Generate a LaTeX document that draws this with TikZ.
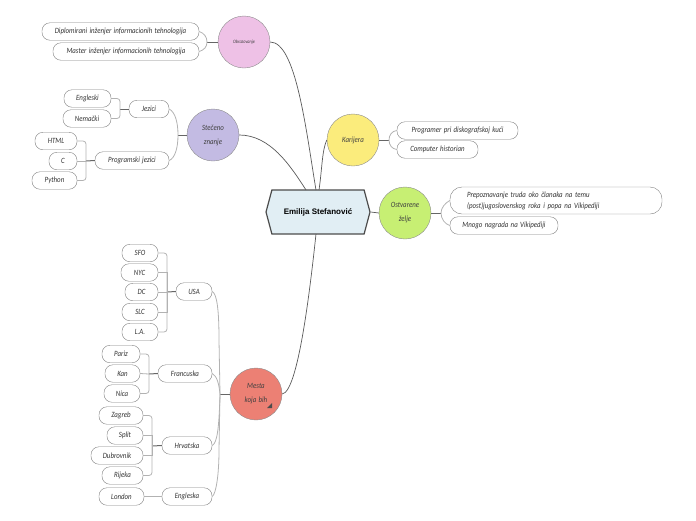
\documentclass[tikz,border=0pt]{standalone}
\usepackage{fontspec}
\setmainfont{Carlito}[FakeStretch=0.86,WordSpace=1.5]
\newfontfamily\titlefont{Liberation Sans}
\usetikzlibrary{shapes.symbols}
\definecolor{hexblue}{HTML}{E1EEF4}
\definecolor{pinkish}{HTML}{EEC1E6}
\definecolor{violetish}{HTML}{C3BBE3}
\definecolor{yellowish}{HTML}{FBEC7C}
\definecolor{greenish}{HTML}{C7EF73}
\definecolor{redish}{HTML}{EC8074}
\tikzset{
  topic/.style={draw=black!45,circle,inner sep=0pt,minimum size=52pt,align=center,font=\itshape\fontsize{8}{14}\selectfont,text=black!75},
  leaf/.style={draw=black!50,fill=white,rounded corners=8pt,inner sep=0pt,minimum height=17.5pt,align=left,font=\itshape\fontsize{8}{11}\selectfont,text=black!80},
  limb/.style={draw=black!65,line width=0.7pt},
  stub/.style={draw=black!60,line width=1pt},
  twig/.style={draw=black!30,line width=0.8pt},
  bracket/.style={twig,rounded corners=3pt},
}
\begin{document}
\begin{tikzpicture}[x=1pt,y=-1pt]
\useasboundingbox (0,0) rectangle (696,520);

\node[shape=signal,signal to=west and east,signal pointer angle=150,draw=black!70,line width=1.2pt,fill=hexblue,minimum width=104pt,minimum height=44pt,inner sep=0pt,font=\titlefont\bfseries\fontsize{8}{10}\selectfont](root) at (318, 212) {Emilija Stefanović};

\node[topic,fill=pinkish,font=\itshape\fontsize{5}{6}\selectfont](obrazovanje) at (244, 42) {Obrazovanje};
\node[topic,fill=violetish](znanje) at (213, 135) {Stečeno\\znanje};
\node[topic,fill=yellowish](karijera) at (353, 140) {Karijera};
\node[topic,fill=greenish](zelje) at (405, 213) {Ostvarene\\želje};
\node[topic,fill=redish](mesta) at (256, 394) {Mesta\\koja bih};
\fill[black!70] (272,403) -- (272,408) -- (267,408) -- cycle;

\node[leaf,minimum width=157pt](diplomirani) at (120.5, 31.5) {Diplomirani inženjer informacionih tehnologija};
\node[leaf,minimum width=146pt](master) at (126, 51.5) {Master inženjer informacionih tehnologija};

\node[leaf,minimum width=40pt](jezici) at (149, 109) {Jezici};
\node[leaf,minimum width=47pt](engleski) at (87.5, 98.5) {Engleski};
\node[leaf,minimum width=48pt](nemacki) at (87, 118.5) {Nemački};
\node[leaf,minimum width=74pt](programski) at (132, 160.5) {Programski jezici};
\node[leaf,minimum width=42pt](html) at (56, 141) {HTML};
\node[leaf,minimum width=28pt](c) at (63, 161) {C};
\node[leaf,minimum width=45pt](python) at (54.5, 180.5) {Python};

\node[leaf,minimum width=121pt](programer) at (457.5, 130.5) {Programer pri diskografskoj kući};
\node[leaf,minimum width=81pt](computer) at (437.5, 149.5) {Computer historian};
\node[leaf,minimum width=212pt,minimum height=27pt,rounded corners=12pt,text width=178pt](truda) at (556, 200.5) {Prepoznavanje truda oko članaka na temu\\(post)jugoslovenskog roka i popa na Vikipediji};
\node[leaf,minimum width=108pt](nagrada) at (504, 225.5) {Mnogo nagrada na Vikipediji};

\node[leaf,minimum width=36pt](usa) at (194, 291.5) {USA};
\node[leaf,minimum width=36pt](sfo) at (140, 253) {SFO};
\node[leaf,minimum width=37pt](nyc) at (139.5, 272.5) {NYC};
\node[leaf,minimum width=33pt](dc) at (141.5, 292) {DC};
\node[leaf,minimum width=36pt](slc) at (140, 312) {SLC};
\node[leaf,minimum width=36pt](la) at (140, 332) {L.A.};

\node[leaf,minimum width=54pt](francuska) at (185, 373.5) {Francuska};
\node[leaf,minimum width=38pt](pariz) at (121, 354) {Pariz};
\node[leaf,minimum width=35pt](kan) at (122.5, 373.5) {Kan};
\node[leaf,minimum width=36pt](nica) at (122, 393.5) {Nica};

\node[leaf,minimum width=50pt](hrvatska) at (187, 445.5) {Hrvatska};
\node[leaf,minimum width=44pt](zagreb) at (121, 415.5) {Zagreb};
\node[leaf,minimum width=36pt](split) at (125, 435.5) {Split};
\node[leaf,minimum width=52pt](dubrovnik) at (117, 455.5) {Dubrovnik};
\node[leaf,minimum width=41pt](rijeka) at (122.5, 475.5) {Rijeka};

\node[leaf,minimum width=50pt](engleska) at (187, 496.5) {Engleska};
\node[leaf,minimum width=45pt](london) at (121.5, 496.5) {London};

\coordinate(jobrazovanje) at (207, 42);
\coordinate(jznanje) at (178, 135);
\coordinate(jkarijera) at (389, 140);
\coordinate(jzelje) at (441, 213);
\coordinate(jmesta) at (220, 394);
\coordinate(jjezici) at (120, 109);
\coordinate(jprogramski) at (86, 161);
\coordinate(jusa) at (167, 292);
\coordinate(jfrancuska) at (149, 374);
\coordinate(jhrvatska) at (152, 446);

% main branches
\draw[limb] (obrazovanje.east) .. controls (296, 42) and (306, 130) .. (316, 190);
\draw[limb] (znanje.east) .. controls (270, 135) and (290, 165) .. (306, 190);
\draw[limb] (karijera.west) .. controls (322, 150) and (322, 170) .. (319, 190);
\draw[limb] (mesta.east) .. controls (298, 392) and (310, 290) .. (316, 234);
\draw[limb] (root.east) -- (zelje.west);

% stubs
\draw[stub] (obrazovanje.west) -- (jobrazovanje);
\draw[stub] (znanje.west) -- (jznanje);
\draw[stub] (karijera.east) -- (jkarijera);
\draw[stub] (zelje.east) -- (jzelje);
\draw[stub] (mesta.west) -- (jmesta);
\draw[stub] (jezici.west) -- (jjezici);
\draw[stub] (programski.west) -- (jprogramski);
\draw[stub] (usa.west) -- (jusa);
\draw[stub] (francuska.west) -- (jfrancuska);
\draw[stub] (hrvatska.west) -- (jhrvatska);

% curved twigs
\draw[twig] (diplomirani.east) .. controls (204, 33) and (207, 37) .. (jobrazovanje);
\draw[twig] (master.east) .. controls (204, 50) and (207, 47) .. (jobrazovanje);
\draw[twig] (jezici.east) .. controls (175, 112) and (178, 122) .. (jznanje);
\draw[twig] (programski.east) .. controls (175, 158) and (178, 148) .. (jznanje);
\draw[twig] (programer.west) .. controls (392, 131) and (389, 135) .. (jkarijera);
\draw[twig] (computer.west) .. controls (392, 149) and (389, 145) .. (jkarijera);
\draw[twig] (truda.west) .. controls (445, 203) and (441, 208) .. (jzelje);
\draw[twig] (nagrada.west) .. controls (445, 224) and (441, 219) .. (jzelje);
\draw[twig] (usa.east) .. controls (217, 294) and (219, 310) .. (219, 340) -- (jmesta);
\draw[twig] (francuska.east) .. controls (217, 376) and (219, 384) .. (jmesta);
\draw[twig] (hrvatska.east) .. controls (217, 443) and (219, 430) .. (jmesta);
\draw[twig] (engleska.east) .. controls (216, 494) and (219, 475) .. (219, 450) -- (jmesta);

% brackets
\draw[bracket] (engleski.east) -| (jjezici) |- (nemacki.east);
\draw[bracket] (html.east) -| (jprogramski) |- (python.east);
\draw[twig] (c.east) -- (jprogramski);
\draw[bracket] (sfo.east) -| (jusa) |- (la.east);
\draw[twig] (nyc.east) -| (jusa);
\draw[twig] (dc.east) -- (jusa);
\draw[twig] (slc.east) -| (jusa);
\draw[bracket] (pariz.east) -| (jfrancuska) |- (nica.east);
\draw[twig] (kan.east) -- (jfrancuska);
\draw[bracket] (zagreb.east) -| (jhrvatska) |- (rijeka.east);
\draw[twig] (split.east) -| (jhrvatska);
\draw[twig] (dubrovnik.east) -| (jhrvatska);
\draw[twig] (london.east) -- (engleska.west);
\end{tikzpicture}
\end{document}
